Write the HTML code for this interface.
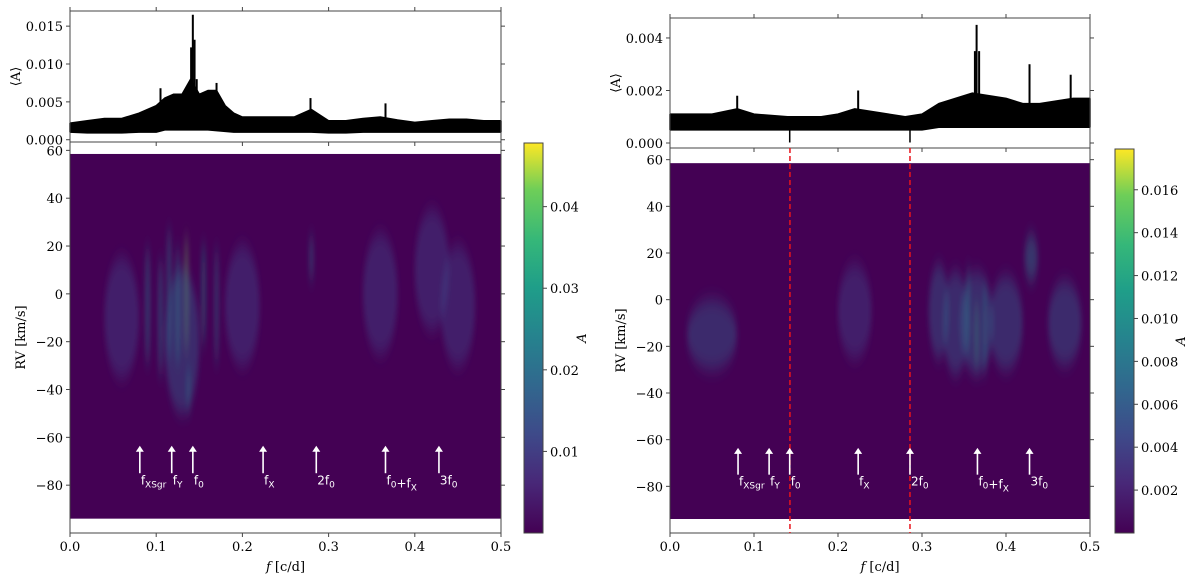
<!DOCTYPE html>
<html><head><meta charset="utf-8"><style>
body{margin:0;background:#fff;}
svg{display:block;font-family:"DejaVu Serif","Liberation Serif",serif;}
</style></head><body>
<svg id="fig" width="1200" height="577" viewBox="0 0 1200 577" xmlns="http://www.w3.org/2000/svg">
<defs>
<linearGradient id="vir" x1="0" y1="1" x2="0" y2="0">
<stop offset="0" stop-color="#440154"/><stop offset="0.13" stop-color="#482878"/><stop offset="0.25" stop-color="#3e4989"/><stop offset="0.38" stop-color="#31688e"/><stop offset="0.5" stop-color="#26828e"/><stop offset="0.63" stop-color="#1f9e89"/><stop offset="0.75" stop-color="#35b779"/><stop offset="0.88" stop-color="#6ece58"/><stop offset="1" stop-color="#fde725"/>
</linearGradient>
<filter id="blur" x="-50%" y="-50%" width="200%" height="200%"><feGaussianBlur stdDeviation="2.5 8"/></filter>
</defs>
<g id="root"></g>
</svg>
<script>
// ---------- data ----------
const leftFreq = [0,0.02,0.04,0.06,0.08,0.10,0.11,0.12,0.13,0.14,0.15,0.16,0.17,0.18,0.19,0.20,0.22,0.24,0.26,0.28,0.30,0.32,0.34,0.36,0.38,0.40,0.42,0.44,0.46,0.48,0.50];
const leftUpper = [2.2,2.5,2.8,2.8,3.5,4.5,5.5,6,6,8,6,6.5,6.5,4.5,3.5,3,3,3,3,4,2.5,2.5,2.8,3,2.6,2.3,2.5,2.7,2.7,2.5,2.5];
const leftLower = [1.0,0.9,0.9,0.9,1.0,1.0,1.3,1.3,1.3,1.3,1.3,1.3,1.2,1.1,1.0,1.0,1.0,1.0,1.0,1.0,0.9,0.9,1.0,1.0,1.0,1.0,1.0,1.0,1.0,1.0,1.0];
const leftPeakF = [0.1405,0.1425,0.1445,0.147,0.105,0.17,0.279,0.366];
const leftPeakV = [12.2,16.5,13.2,8,6.8,7.5,5.5,4.8];
const rightFreq = [0,0.05,0.08,0.10,0.14,0.18,0.20,0.22,0.24,0.26,0.28,0.30,0.32,0.34,0.36,0.38,0.40,0.42,0.44,0.46,0.48,0.50];
const rightUpper = [11,11,13,11,10,10,11,13,12,11,10,11,15,17,19,18,17,15,15,16,17,17];
const rightLower = [5,5,5,5,5,5,5,5,5,5,5,5,6,6,6,6,6,6,6,6,6,6];
const rightPeakF = [0.363,0.365,0.368,0.428,0.08,0.224,0.477,0.1425,0.2857];
const rightPeakV = [35,45,35,30,18,20,26,0.2,0.2];
// heatmap features: frequency, RV centre, half-width in f, half-height in RV, amplitude
const leftBlobF = [0.09,0.115,0.135,0.1375,0.155,0.17,0.13,0.28,0.36,0.42,0.06,0.2,0.45,0.105,0.125];
const leftBlobRV = [-5,0,0,-40,0,-5,-20,15,0,10,-10,-5,-5,-10,-5];
const leftBlobW = [0.003,0.003,0.0015,0.0015,0.002,0.002,0.02,0.002,0.02,0.02,0.02,0.02,0.02,0.003,0.003];
const leftBlobH = [25,28,25,10,22,25,30,10,25,25,25,25,25,25,25];
const leftBlobA = [0.012,0.014,0.03,0.016,0.018,0.015,0.008,0.013,0.006,0.006,0.005,0.005,0.005,0.012,0.014];
const rightBlobF = [0.365,0.365,0.34,0.4,0.43,0.05,0.22,0.47,0.32,0.355,0.375];
const rightBlobRV = [-15,-10,-10,-10,18,-15,-5,-10,-5,-5,-12];
const rightBlobW = [0.0015,0.02,0.015,0.02,0.008,0.03,0.02,0.02,0.012,0.002,0.002];
const rightBlobH = [15,22,22,20,10,15,20,18,20,20,20];
const rightBlobA = [0.009,0.004,0.004,0.004,0.005,0.003,0.0025,0.0035,0.0035,0.006,0.006];
const markerF = [0.081,0.118,0.1425,0.224,0.2857,0.366,0.428];
const markerLab = [['f','XSgr'],['f','Y'],['f','0'],['f','X'],['2f','0'],['f','0','+f','X'],['3f','0']];
const xTicks = [0,0.1,0.2,0.3,0.4,0.5];
const rvTicks = [60,40,20,0,-20,-40,-60,-80];
const leftTopTicks = [0,0.005,0.010,0.015];
const rightTopTicks = [0,0.002,0.004];
const leftCbTicks = [0.01,0.02,0.03,0.04];
const rightCbTicks = [0.002,0.004,0.006,0.008,0.010,0.012,0.014,0.016];
const dashF = [0.1428,0.2857];

const NS='http://www.w3.org/2000/svg';
const root=document.getElementById('root');
function el(tag,attrs,parent){const e=document.createElementNS(NS,tag);for(const k in attrs)e.setAttribute(k,attrs[k]);(parent||root).appendChild(e);return e;}
function lin(d0,d1,r0,r1){return v=>r0+(v-d0)/(d1-d0)*(r1-r0);}
const vir=['#440154','#482878','#3e4989','#31688e','#26828e','#1f9e89','#35b779','#6ece58','#fde725'];
function vcol(t){t=Math.max(0,Math.min(1,t));return vir[Math.round(t*8)];}

function panel(cfg){
  const g=el('g',{});
  
  
  const x=lin(0,0.5,cfg.x0,cfg.x1);
  const yt=lin(cfg.topDom[0],cfg.topDom[1],cfg.topY1,cfg.topY0);
  const sc=cfg.topScale;
  let pts=[];
  cfg.freq.forEach((f,i)=>pts.push(x(f)+','+yt(cfg.upper[i]*sc)));
  for(let i=cfg.freq.length-1;i>=0;i--)pts.push(x(cfg.freq[i])+','+yt(cfg.lower[i]*sc));
  const band=el('polygon',{points:pts.join(' '),fill:'#000',stroke:'#000','stroke-width':1.5,'stroke-linejoin':'bevel'},g);
  
  
  const baseV=cfg.lower[0]*sc*1.3;
  cfg.peakF.forEach((f,i)=>{
    const dip=cfg.peakV[i]<1;
    const l=el('line',{x1:x(f),x2:x(f),y1:yt(baseV),y2:yt(cfg.peakV[i]*sc),stroke:'#000','stroke-width':dip?1.5:2},g);
    
    
  });
  const tb=el('rect',{x:cfg.x0,y:cfg.topY0,width:cfg.x1-cfg.x0,height:cfg.topY1-cfg.topY0,fill:'none',stroke:'#444','stroke-width':1},g);
  
  
  cfg.topTicks.forEach(v=>{
    el('line',{x1:cfg.x0-4,x2:cfg.x0,y1:yt(v),y2:yt(v),stroke:'#444'},g);
    el('line',{x1:cfg.x1,x2:cfg.x1+4,y1:yt(v),y2:yt(v),stroke:'#444'},g);
    const t=el('text',{x:cfg.x0-7,y:yt(v)+5,'text-anchor':'end','font-size':13},g);
    t.textContent=v.toFixed(3);
    
    
  });
  xTicks.forEach(v=>{el('line',{x1:x(v),x2:x(v),y1:cfg.topY0-4,y2:cfg.topY0,stroke:'#444'},g);el('line',{x1:x(v),x2:x(v),y1:cfg.topY1,y2:cfg.topY1+4,stroke:'#444'},g);});
  const yl=el('text',{x:0,y:0,'font-size':13,'text-anchor':'middle',transform:`translate(${cfg.x0-50},${(cfg.topY0+cfg.topY1)/2}) rotate(-90)`},g);
  yl.textContent='⟨A⟩';
  
  
  // heatmap
  const yb=lin(-100,cfg.rvTop,cfg.botY1,cfg.botY0);
  const hm=el('rect',{x:cfg.x0,y:yb(58.5),width:cfg.x1-cfg.x0,height:yb(-94)-yb(58.5),fill:'#440154'},g);
  
  
  const clip=el('clipPath',{id:cfg.name+'-clip'},g);
  el('rect',{x:cfg.x0,y:yb(58.5),width:cfg.x1-cfg.x0,height:yb(-94)-yb(58.5)},clip);
  const bg=el('g',{'clip-path':`url(#${cfg.name}-clip)`,filter:'url(#blur)'},g);
  cfg.bF.forEach((f,i)=>{
    const t=cfg.bA[i]/cfg.cbMax;
    const e=el('ellipse',{cx:x(f),cy:yb(cfg.bRV[i]),rx:Math.max(2,x(cfg.bW[i])-x(0)),ry:yb(0)-yb(cfg.bH[i]),fill:vcol(t*1.3+0.12),opacity:0.4},bg);
    
    
  });
  const bb=el('rect',{x:cfg.x0,y:cfg.botY0,width:cfg.x1-cfg.x0,height:cfg.botY1-cfg.botY0,fill:'none',stroke:'#444'},g);
  
  
  rvTicks.forEach(v=>{
    el('line',{x1:cfg.x0-4,x2:cfg.x0,y1:yb(v),y2:yb(v),stroke:'#444'},g);
    el('line',{x1:cfg.x1,x2:cfg.x1+4,y1:yb(v),y2:yb(v),stroke:'#444'},g);
    const t=el('text',{x:cfg.x0-7,y:yb(v)+5,'text-anchor':'end','font-size':13},g);
    t.textContent=v<0?'−'+(-v):v;
    
    
  });
  xTicks.forEach(v=>{
    el('line',{x1:x(v),x2:x(v),y1:cfg.botY1,y2:cfg.botY1+4,stroke:'#444'},g);
    const t=el('text',{x:x(v),y:cfg.botY1+18,'text-anchor':'middle','font-size':13},g);
    t.textContent=v.toFixed(1);
    
    
  });
  const xl=el('text',{x:(cfg.x0+cfg.x1)/2,y:cfg.botY1+38,'text-anchor':'middle','font-size':13},g);
  xl.innerHTML='<tspan font-style="italic">f</tspan> [c/d]';
  
  
  const rl=el('text',{x:0,y:0,'font-size':13,'text-anchor':'middle',transform:`translate(${cfg.x0-45},${(cfg.botY0+cfg.botY1)/2}) rotate(-90)`},g);
  rl.textContent='RV [km/s]';
  
  
  if(cfg.dash){dashF.forEach(f=>{
    const d=el('line',{x1:x(f),x2:x(f),y1:cfg.topY1,y2:cfg.botY1,stroke:'#e8141c','stroke-width':1.5,'stroke-dasharray':'5,3'},g);
    
    
  });}
  markerF.forEach((f,i)=>{
    const xa=x(f),yTop=yb(-63.5),yBot=yb(-75);
    const a=el('line',{x1:xa,x2:xa,y1:yBot,y2:yTop+5,stroke:'#fff','stroke-width':1.6},g);
    
    
    const h=el('polygon',{points:`${xa-4},${yTop+6} ${xa+4},${yTop+6} ${xa},${yTop}`,fill:'#fff'},g);
    
    
    const t=el('text',{x:xa+1,y:yb(-78)+4,fill:'#fff','font-size':12,'font-family':'DejaVu Sans'},g);
    const lab=markerLab[i];let s='';
    for(let k=0;k<lab.length;k+=2){s+=lab[k]+'<tspan font-size="9" dy="3">'+lab[k+1]+'</tspan><tspan dy="-3"></tspan>';}
    t.innerHTML=s;
    
    
  });
  const yc=lin(0,cfg.cbMax,cfg.botY1,cfg.cbTop);
  const cb=el('rect',{x:cfg.cbX,y:cfg.cbTop,width:19,height:cfg.botY1-cfg.cbTop,fill:'url(#vir)',stroke:'#444'},g);
  
  
  cfg.cbTicks.forEach(v=>{
    el('line',{x1:cfg.cbX+19,x2:cfg.cbX+23,y1:yc(v),y2:yc(v),stroke:'#444'},g);
    const t=el('text',{x:cfg.cbX+26,y:yc(v)+5,'font-size':13},g);
    t.textContent=cfg.cbDec==2?v.toFixed(2):v.toFixed(3);
    
    
  });
  const cl=el('text',{x:0,y:0,'font-size':13,'font-style':'italic','text-anchor':'middle',transform:`translate(${cfg.cbX+cfg.cbLabOff},${(cfg.cbTop+cfg.botY1)/2}) rotate(-90)`},g);
  cl.textContent='A';
  
  
}
panel({name:'left-panel',x0:70,x1:501,topY0:11,topY1:142,topDom:[-0.0003,0.0170],topScale:0.001,
  freq:leftFreq,upper:leftUpper,lower:leftLower,peakF:leftPeakF,peakV:leftPeakV,topTicks:leftTopTicks,
  botY0:142,botY1:533,rvTop:63.5,bF:leftBlobF,bRV:leftBlobRV,bW:leftBlobW,bH:leftBlobH,bA:leftBlobA,
  cbX:524,cbTop:143,cbMax:0.0478,cbTicks:leftCbTicks,cbDec:2,cbLabOff:62,dash:false});
panel({name:'right-panel',x0:670,x1:1090,topY0:18,topY1:148,topDom:[-0.00019,0.00476],topScale:0.0001,
  freq:rightFreq,upper:rightUpper,lower:rightLower,peakF:rightPeakF,peakV:rightPeakV,topTicks:rightTopTicks,
  botY0:148,botY1:533,rvTop:65,bF:rightBlobF,bRV:rightBlobRV,bW:rightBlobW,bH:rightBlobH,bA:rightBlobA,
  cbX:1115,cbTop:149,cbMax:0.0179,cbTicks:rightCbTicks,cbDec:3,cbLabOff:70,dash:true});
</script>
</body></html>
